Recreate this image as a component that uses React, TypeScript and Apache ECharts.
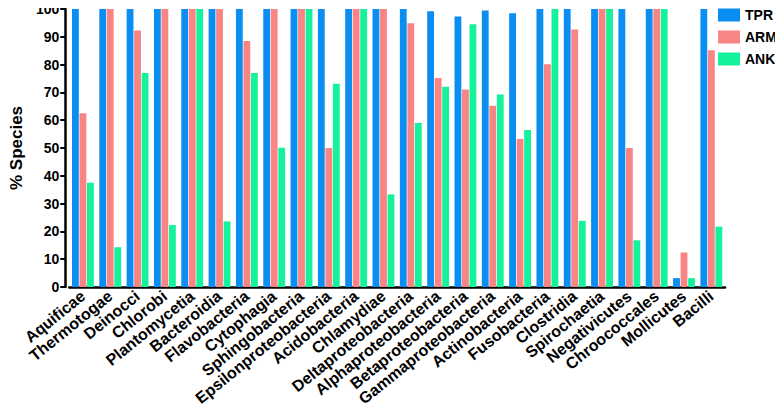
import React, { useEffect, useRef } from "react";
import * as echarts from "echarts";

const categories = [
  "Aquificae", "Thermotogae", "Deinocci", "Chlorobi", "Plantomycetia", "Bacteroidia",
  "Flavobacteria", "Cytophagia", "Sphingobacteria", "Epsilonproteobacteria", "Acidobacteria",
  "Chlamydiae", "Deltaproteobacteria", "Alphaproteobacteria", "Betaproteobacteria",
  "Gammaproteobacteria", "Actinobacteria", "Fusobacteria", "Clostridia", "Spirochaetia",
  "Negativicutes", "Chroococcales", "Mollicutes", "Bacilli",
];

const tpr = [100, 100, 100, 100, 100, 100, 100, 100, 100, 100, 100, 100, 100, 99.2, 97.3, 99.5, 98.5, 100, 100, 100, 100, 100, 3.2, 100];
const arm = [62.5, 100, 92.3, 100, 100, 100, 88.5, 100, 100, 50, 100, 100, 94.9, 75.2, 71.0, 65.2, 53.2, 80.1, 92.6, 100, 50, 100, 12.4, 85.2];
const ank = [37.5, 14.3, 77.0, 22.3, 100, 23.6, 77.0, 50.1, 100, 73.1, 100, 33.3, 59.0, 72.0, 94.5, 69.2, 56.5, 100, 23.8, 100, 16.8, 100, 3.2, 21.7];

const yTicks = { min: 0, max: 100, interval: 10 };

const FONT = "'Liberation Sans', Arial, sans-serif";

export default function App() {
  const ref = useRef<HTMLDivElement>(null);
  useEffect(() => {
    if (!ref.current) return;
    const chart = echarts.init(ref.current, null, { renderer: "svg" });
    const barStyle = (color: string) => ({ color });
    chart.setOption({
      animation: false,
      textStyle: { fontFamily: FONT },
      grid: { left: 56, right: 58, top: 9, bottom: 127, containLabel: false },
      legend: {
        left: 718,
        top: 8,
        orient: "vertical",
        padding: 0,
        itemWidth: 22,
        itemHeight: 13,
        itemGap: 8,
        icon: "rect",
        textStyle: { fontFamily: FONT, fontWeight: "bold", fontSize: 14, color: "#000" },
        data: ["TPR", "ARM", "ANK"],
      },
      xAxis: {
        type: "category",
        data: categories,
        axisLine: { lineStyle: { color: "#000", width: 2.5 } },
        axisTick: { alignWithLabel: true, length: 5, lineStyle: { color: "#000", width: 2 } },
        axisLabel: {
          interval: 0,
          rotate: 39,
          margin: 7,
          color: "#000",
          fontFamily: FONT,
          fontWeight: "bold",
          fontSize: 16,
        },
      },
      yAxis: {
        type: "value",
        min: yTicks.min,
        max: yTicks.max,
        interval: yTicks.interval,
        offset: 4,
        name: "% Species",
        nameLocation: "middle",
        nameRotate: 90,
        nameGap: 32,
        nameTextStyle: { color: "#000", fontFamily: FONT, fontWeight: "bold", fontSize: 17 },
        splitLine: { show: false },
        axisLine: { show: true, lineStyle: { color: "#000", width: 2.5 } },
        axisTick: { show: true, length: 5, lineStyle: { color: "#000", width: 2 } },
        axisLabel: { color: "#000", fontFamily: FONT, fontWeight: "bold", fontSize: 14, margin: 6 },
      },
      series: [
        { name: "TPR", type: "bar", data: tpr, itemStyle: barStyle("#0A8EF2"), barGap: "10%", barCategoryGap: "20%" },
        { name: "ARM", type: "bar", data: arm, itemStyle: barStyle("#F98484") },
        { name: "ANK", type: "bar", data: ank, itemStyle: barStyle("#14F29C") },
      ],
    });
    return () => chart.dispose();
  }, []);
  return <div ref={ref} style={{ width: 783, height: 414, margin: -8 }} />;
}
